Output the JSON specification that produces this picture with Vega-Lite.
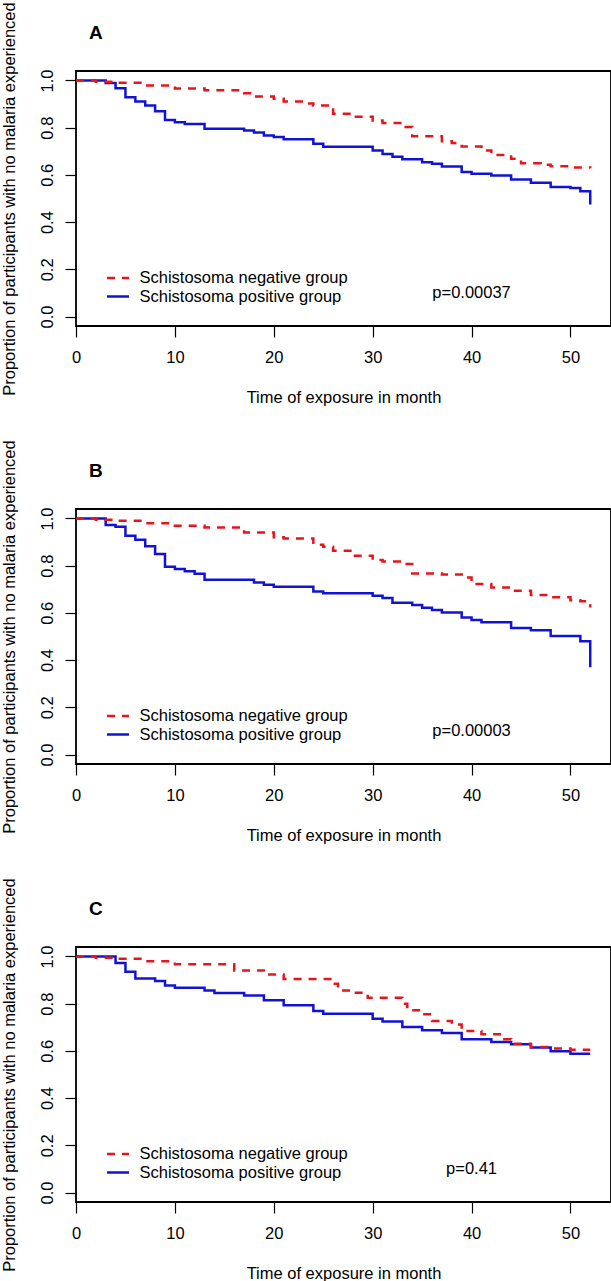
{
  "$schema": "https://vega.github.io/schema/vega-lite/v6.json",
  "background": "white",
  "padding": {"left": 0, "top": 0, "right": 0, "bottom": 0},
  "autosize": {"type": "pad"},
  "config": {
    "font": "Liberation Sans",
    "view": {"stroke": "black", "strokeWidth": 1.8},
    "axis": {"domain": false, "grid": false, "ticks": true, "tickColor": "black", "tickSize": 11, "tickWidth": 1.2,
      "labelColor": "black", "labelFontSize": 16.5, "labelFont": "Liberation Sans", "labelFlush": false, "labelOverlap": false,
      "titleFont": "Liberation Sans", "titleFontSize": 16.5, "titleFontWeight": "normal", "titleColor": "black"},
    "axisX": {"labelPadding": 12, "titlePadding": 24},
    "axisY": {"labelAngle": 270, "labelAlign": "center", "labelBaseline": "bottom", "labelPadding": 10, "titlePadding": 22},
    "title": {"anchor": "start", "fontSize": 19, "fontWeight": "bold", "font": "Liberation Sans", "color": "black", "dx": 13, "offset": -41, "frame": "group"}
  },
  "datasets": {
    "km": [
      {"panel":"A","group":"Schistosoma positive group","t":0,"s":1},
      {"panel":"A","group":"Schistosoma positive group","t":3,"s":0.989},
      {"panel":"A","group":"Schistosoma positive group","t":4,"s":0.967},
      {"panel":"A","group":"Schistosoma positive group","t":5,"s":0.929},
      {"panel":"A","group":"Schistosoma positive group","t":6,"s":0.911},
      {"panel":"A","group":"Schistosoma positive group","t":7,"s":0.894},
      {"panel":"A","group":"Schistosoma positive group","t":8,"s":0.870},
      {"panel":"A","group":"Schistosoma positive group","t":9,"s":0.833},
      {"panel":"A","group":"Schistosoma positive group","t":10,"s":0.823},
      {"panel":"A","group":"Schistosoma positive group","t":11,"s":0.816},
      {"panel":"A","group":"Schistosoma positive group","t":13,"s":0.795},
      {"panel":"A","group":"Schistosoma positive group","t":17,"s":0.788},
      {"panel":"A","group":"Schistosoma positive group","t":18,"s":0.780},
      {"panel":"A","group":"Schistosoma positive group","t":19,"s":0.767},
      {"panel":"A","group":"Schistosoma positive group","t":20,"s":0.760},
      {"panel":"A","group":"Schistosoma positive group","t":21,"s":0.751},
      {"panel":"A","group":"Schistosoma positive group","t":24,"s":0.732},
      {"panel":"A","group":"Schistosoma positive group","t":25,"s":0.719},
      {"panel":"A","group":"Schistosoma positive group","t":30,"s":0.703},
      {"panel":"A","group":"Schistosoma positive group","t":31,"s":0.689},
      {"panel":"A","group":"Schistosoma positive group","t":32,"s":0.677},
      {"panel":"A","group":"Schistosoma positive group","t":33,"s":0.666},
      {"panel":"A","group":"Schistosoma positive group","t":35,"s":0.654},
      {"panel":"A","group":"Schistosoma positive group","t":36,"s":0.647},
      {"panel":"A","group":"Schistosoma positive group","t":37,"s":0.636},
      {"panel":"A","group":"Schistosoma positive group","t":39,"s":0.612},
      {"panel":"A","group":"Schistosoma positive group","t":40,"s":0.605},
      {"panel":"A","group":"Schistosoma positive group","t":42,"s":0.597},
      {"panel":"A","group":"Schistosoma positive group","t":44,"s":0.580},
      {"panel":"A","group":"Schistosoma positive group","t":46,"s":0.567},
      {"panel":"A","group":"Schistosoma positive group","t":48,"s":0.549},
      {"panel":"A","group":"Schistosoma positive group","t":50,"s":0.544},
      {"panel":"A","group":"Schistosoma positive group","t":51,"s":0.531},
      {"panel":"A","group":"Schistosoma positive group","t":52,"s":0.475},
      {"panel":"A","group":"Schistosoma negative group","t":0,"s":1},
      {"panel":"A","group":"Schistosoma negative group","t":2,"s":0.994},
      {"panel":"A","group":"Schistosoma negative group","t":4,"s":0.990},
      {"panel":"A","group":"Schistosoma negative group","t":7,"s":0.979},
      {"panel":"A","group":"Schistosoma negative group","t":10,"s":0.966},
      {"panel":"A","group":"Schistosoma negative group","t":13,"s":0.959},
      {"panel":"A","group":"Schistosoma negative group","t":17,"s":0.946},
      {"panel":"A","group":"Schistosoma negative group","t":18,"s":0.932},
      {"panel":"A","group":"Schistosoma negative group","t":20,"s":0.922},
      {"panel":"A","group":"Schistosoma negative group","t":21,"s":0.911},
      {"panel":"A","group":"Schistosoma negative group","t":23,"s":0.902},
      {"panel":"A","group":"Schistosoma negative group","t":24,"s":0.894},
      {"panel":"A","group":"Schistosoma negative group","t":26,"s":0.859},
      {"panel":"A","group":"Schistosoma negative group","t":28,"s":0.846},
      {"panel":"A","group":"Schistosoma negative group","t":30,"s":0.830},
      {"panel":"A","group":"Schistosoma negative group","t":31,"s":0.820},
      {"panel":"A","group":"Schistosoma negative group","t":33,"s":0.803},
      {"panel":"A","group":"Schistosoma negative group","t":34,"s":0.764},
      {"panel":"A","group":"Schistosoma negative group","t":37,"s":0.743},
      {"panel":"A","group":"Schistosoma negative group","t":38,"s":0.735},
      {"panel":"A","group":"Schistosoma negative group","t":39,"s":0.720},
      {"panel":"A","group":"Schistosoma negative group","t":41,"s":0.703},
      {"panel":"A","group":"Schistosoma negative group","t":42,"s":0.684},
      {"panel":"A","group":"Schistosoma negative group","t":44,"s":0.668},
      {"panel":"A","group":"Schistosoma negative group","t":45,"s":0.649},
      {"panel":"A","group":"Schistosoma negative group","t":47,"s":0.643},
      {"panel":"A","group":"Schistosoma negative group","t":48,"s":0.637},
      {"panel":"A","group":"Schistosoma negative group","t":50,"s":0.631},
      {"panel":"A","group":"Schistosoma negative group","t":52,"s":0.628},
      {"panel":"B","group":"Schistosoma positive group","t":0,"s":1},
      {"panel":"B","group":"Schistosoma positive group","t":3,"s":0.972},
      {"panel":"B","group":"Schistosoma positive group","t":4,"s":0.965},
      {"panel":"B","group":"Schistosoma positive group","t":5,"s":0.927},
      {"panel":"B","group":"Schistosoma positive group","t":6,"s":0.910},
      {"panel":"B","group":"Schistosoma positive group","t":7,"s":0.882},
      {"panel":"B","group":"Schistosoma positive group","t":8,"s":0.849},
      {"panel":"B","group":"Schistosoma positive group","t":9,"s":0.795},
      {"panel":"B","group":"Schistosoma positive group","t":10,"s":0.786},
      {"panel":"B","group":"Schistosoma positive group","t":11,"s":0.776},
      {"panel":"B","group":"Schistosoma positive group","t":12,"s":0.766},
      {"panel":"B","group":"Schistosoma positive group","t":13,"s":0.740},
      {"panel":"B","group":"Schistosoma positive group","t":18,"s":0.729},
      {"panel":"B","group":"Schistosoma positive group","t":19,"s":0.719},
      {"panel":"B","group":"Schistosoma positive group","t":20,"s":0.711},
      {"panel":"B","group":"Schistosoma positive group","t":24,"s":0.691},
      {"panel":"B","group":"Schistosoma positive group","t":25,"s":0.683},
      {"panel":"B","group":"Schistosoma positive group","t":30,"s":0.673},
      {"panel":"B","group":"Schistosoma positive group","t":31,"s":0.663},
      {"panel":"B","group":"Schistosoma positive group","t":32,"s":0.643},
      {"panel":"B","group":"Schistosoma positive group","t":34,"s":0.633},
      {"panel":"B","group":"Schistosoma positive group","t":35,"s":0.622},
      {"panel":"B","group":"Schistosoma positive group","t":36,"s":0.612},
      {"panel":"B","group":"Schistosoma positive group","t":37,"s":0.602},
      {"panel":"B","group":"Schistosoma positive group","t":39,"s":0.581},
      {"panel":"B","group":"Schistosoma positive group","t":40,"s":0.570},
      {"panel":"B","group":"Schistosoma positive group","t":41,"s":0.560},
      {"panel":"B","group":"Schistosoma positive group","t":44,"s":0.536},
      {"panel":"B","group":"Schistosoma positive group","t":46,"s":0.526},
      {"panel":"B","group":"Schistosoma positive group","t":48,"s":0.502},
      {"panel":"B","group":"Schistosoma positive group","t":51,"s":0.480},
      {"panel":"B","group":"Schistosoma positive group","t":52,"s":0.370},
      {"panel":"B","group":"Schistosoma negative group","t":0,"s":1},
      {"panel":"B","group":"Schistosoma negative group","t":2,"s":0.994},
      {"panel":"B","group":"Schistosoma negative group","t":4,"s":0.990},
      {"panel":"B","group":"Schistosoma negative group","t":7,"s":0.980},
      {"panel":"B","group":"Schistosoma negative group","t":10,"s":0.969},
      {"panel":"B","group":"Schistosoma negative group","t":13,"s":0.962},
      {"panel":"B","group":"Schistosoma negative group","t":17,"s":0.941},
      {"panel":"B","group":"Schistosoma negative group","t":20,"s":0.920},
      {"panel":"B","group":"Schistosoma negative group","t":21,"s":0.915},
      {"panel":"B","group":"Schistosoma negative group","t":24,"s":0.889},
      {"panel":"B","group":"Schistosoma negative group","t":25,"s":0.880},
      {"panel":"B","group":"Schistosoma negative group","t":26,"s":0.863},
      {"panel":"B","group":"Schistosoma negative group","t":28,"s":0.842},
      {"panel":"B","group":"Schistosoma negative group","t":30,"s":0.824},
      {"panel":"B","group":"Schistosoma negative group","t":31,"s":0.818},
      {"panel":"B","group":"Schistosoma negative group","t":33,"s":0.807},
      {"panel":"B","group":"Schistosoma negative group","t":34,"s":0.767},
      {"panel":"B","group":"Schistosoma negative group","t":37,"s":0.763},
      {"panel":"B","group":"Schistosoma negative group","t":39,"s":0.750},
      {"panel":"B","group":"Schistosoma negative group","t":40,"s":0.722},
      {"panel":"B","group":"Schistosoma negative group","t":42,"s":0.708},
      {"panel":"B","group":"Schistosoma negative group","t":44,"s":0.694},
      {"panel":"B","group":"Schistosoma negative group","t":46,"s":0.676},
      {"panel":"B","group":"Schistosoma negative group","t":48,"s":0.666},
      {"panel":"B","group":"Schistosoma negative group","t":50,"s":0.654},
      {"panel":"B","group":"Schistosoma negative group","t":51,"s":0.649},
      {"panel":"B","group":"Schistosoma negative group","t":52,"s":0.623},
      {"panel":"C","group":"Schistosoma positive group","t":0,"s":1},
      {"panel":"C","group":"Schistosoma positive group","t":4,"s":0.972},
      {"panel":"C","group":"Schistosoma positive group","t":5,"s":0.935},
      {"panel":"C","group":"Schistosoma positive group","t":6,"s":0.907},
      {"panel":"C","group":"Schistosoma positive group","t":8,"s":0.896},
      {"panel":"C","group":"Schistosoma positive group","t":9,"s":0.877},
      {"panel":"C","group":"Schistosoma positive group","t":10,"s":0.867},
      {"panel":"C","group":"Schistosoma positive group","t":13,"s":0.856},
      {"panel":"C","group":"Schistosoma positive group","t":14,"s":0.845},
      {"panel":"C","group":"Schistosoma positive group","t":17,"s":0.835},
      {"panel":"C","group":"Schistosoma positive group","t":19,"s":0.814},
      {"panel":"C","group":"Schistosoma positive group","t":21,"s":0.793},
      {"panel":"C","group":"Schistosoma positive group","t":24,"s":0.769},
      {"panel":"C","group":"Schistosoma positive group","t":25,"s":0.757},
      {"panel":"C","group":"Schistosoma positive group","t":30,"s":0.736},
      {"panel":"C","group":"Schistosoma positive group","t":31,"s":0.724},
      {"panel":"C","group":"Schistosoma positive group","t":33,"s":0.701},
      {"panel":"C","group":"Schistosoma positive group","t":35,"s":0.687},
      {"panel":"C","group":"Schistosoma positive group","t":37,"s":0.676},
      {"panel":"C","group":"Schistosoma positive group","t":39,"s":0.649},
      {"panel":"C","group":"Schistosoma positive group","t":42,"s":0.638},
      {"panel":"C","group":"Schistosoma positive group","t":44,"s":0.628},
      {"panel":"C","group":"Schistosoma positive group","t":46,"s":0.614},
      {"panel":"C","group":"Schistosoma positive group","t":48,"s":0.599},
      {"panel":"C","group":"Schistosoma positive group","t":50,"s":0.588},
      {"panel":"C","group":"Schistosoma positive group","t":52,"s":0.588},
      {"panel":"C","group":"Schistosoma negative group","t":0,"s":1},
      {"panel":"C","group":"Schistosoma negative group","t":2,"s":0.994},
      {"panel":"C","group":"Schistosoma negative group","t":4,"s":0.990},
      {"panel":"C","group":"Schistosoma negative group","t":7,"s":0.980},
      {"panel":"C","group":"Schistosoma negative group","t":10,"s":0.967},
      {"panel":"C","group":"Schistosoma negative group","t":16,"s":0.941},
      {"panel":"C","group":"Schistosoma negative group","t":19,"s":0.924},
      {"panel":"C","group":"Schistosoma negative group","t":21,"s":0.905},
      {"panel":"C","group":"Schistosoma negative group","t":26,"s":0.884},
      {"panel":"C","group":"Schistosoma negative group","t":26.5,"s":0.856},
      {"panel":"C","group":"Schistosoma negative group","t":28,"s":0.846},
      {"panel":"C","group":"Schistosoma negative group","t":29.5,"s":0.825},
      {"panel":"C","group":"Schistosoma negative group","t":33,"s":0.800},
      {"panel":"C","group":"Schistosoma negative group","t":33.5,"s":0.772},
      {"panel":"C","group":"Schistosoma negative group","t":35,"s":0.755},
      {"panel":"C","group":"Schistosoma negative group","t":36,"s":0.727},
      {"panel":"C","group":"Schistosoma negative group","t":38,"s":0.712},
      {"panel":"C","group":"Schistosoma negative group","t":39,"s":0.684},
      {"panel":"C","group":"Schistosoma negative group","t":41,"s":0.670},
      {"panel":"C","group":"Schistosoma negative group","t":43,"s":0.649},
      {"panel":"C","group":"Schistosoma negative group","t":44,"s":0.630},
      {"panel":"C","group":"Schistosoma negative group","t":46,"s":0.616},
      {"panel":"C","group":"Schistosoma negative group","t":48,"s":0.610},
      {"panel":"C","group":"Schistosoma negative group","t":50,"s":0.605},
      {"panel":"C","group":"Schistosoma negative group","t":52,"s":0.605}
    ],
    "pv": [
      {"panel":"A","t":40,"s":0.1,"label":"p=0.00037"},
      {"panel":"B","t":40,"s":0.1,"label":"p=0.00003"},
      {"panel":"C","t":40,"s":0.1,"label":"p=0.41"}
    ]
  },
  "bounds": "flush",
  "spacing": 183,
  "resolve": {"scale": {"color": "independent", "strokeDash": "independent"}, "legend": {"color": "independent", "strokeDash": "independent"}},
  "vconcat": [
    {
      "title": {"text": "A"},
      "width": 535, "height": 255,
      "layer": [
        {
          "data": {"name": "km"},
          "transform": [{"filter": "datum.panel === 'A'"}],
          "mark": {"type": "line", "interpolate": "step-after", "strokeWidth": 2.5},
          "encoding": {
            "x": {"field": "t", "type": "quantitative", "scale": {"domain": [0, 54.1], "nice": false, "zero": false}, "axis": {"values": [0,10,20,30,40,50], "title": "Time of exposure in month"}},
            "y": {"field": "s", "type": "quantitative", "scale": {"domain": [-0.04, 1.04], "nice": false, "zero": false}, "axis": {"values": [0,0.2,0.4,0.6,0.8,1.0], "format": ".1f", "title": "Proportion of participants with no malaria experienced"}},
            "color": {"field": "group", "type": "nominal", "scale": {"domain": ["Schistosoma negative group", "Schistosoma positive group"], "range": ["#e8141c", "#1212d6"]},
              "legend": {"title": null, "orient": "none", "legendX": 33.5, "legendY": 198.5, "symbolType": "M-1.57,0H1.57", "symbolSize": 196, "symbolStrokeWidth": 2.5, "labelFontSize": 16.5, "labelColor": "black", "labelFont": "Liberation Sans", "labelOffset": 13, "rowPadding": 1.5, "padding": 0, "labelLimit": 400}},
            "strokeDash": {"field": "group", "type": "nominal", "scale": {"domain": ["Schistosoma negative group", "Schistosoma positive group"], "range": [[8, 7], [1, 0]]},
              "legend": {"title": null, "orient": "none", "legendX": 33.5, "legendY": 198.5, "symbolType": "M-1.57,0H1.57", "symbolSize": 196, "symbolStrokeWidth": 2.5, "labelFontSize": 16.5, "labelColor": "black", "labelFont": "Liberation Sans", "labelOffset": 13, "rowPadding": 1.5, "padding": 0, "labelLimit": 400}}
          }
        },
        {
          "data": {"name": "pv"},
          "transform": [{"filter": "datum.panel === 'A'"}],
          "mark": {"type": "text", "fontSize": 16.5, "font": "Liberation Sans", "color": "black", "align": "center", "baseline": "middle"},
          "encoding": {
            "x": {"field": "t", "type": "quantitative"},
            "y": {"field": "s", "type": "quantitative"},
            "text": {"field": "label"}
          }
        }
      ]
    },
    {
      "title": {"text": "B"},
      "width": 535, "height": 255,
      "layer": [
        {
          "data": {"name": "km"},
          "transform": [{"filter": "datum.panel === 'B'"}],
          "mark": {"type": "line", "interpolate": "step-after", "strokeWidth": 2.5},
          "encoding": {
            "x": {"field": "t", "type": "quantitative", "scale": {"domain": [0, 54.1], "nice": false, "zero": false}, "axis": {"values": [0,10,20,30,40,50], "title": "Time of exposure in month"}},
            "y": {"field": "s", "type": "quantitative", "scale": {"domain": [-0.04, 1.04], "nice": false, "zero": false}, "axis": {"values": [0,0.2,0.4,0.6,0.8,1.0], "format": ".1f", "title": "Proportion of participants with no malaria experienced"}},
            "color": {"field": "group", "type": "nominal", "scale": {"domain": ["Schistosoma negative group", "Schistosoma positive group"], "range": ["#e8141c", "#1212d6"]},
              "legend": {"title": null, "orient": "none", "legendX": 33.5, "legendY": 198.5, "symbolType": "M-1.57,0H1.57", "symbolSize": 196, "symbolStrokeWidth": 2.5, "labelFontSize": 16.5, "labelColor": "black", "labelFont": "Liberation Sans", "labelOffset": 13, "rowPadding": 1.5, "padding": 0, "labelLimit": 400}},
            "strokeDash": {"field": "group", "type": "nominal", "scale": {"domain": ["Schistosoma negative group", "Schistosoma positive group"], "range": [[8, 7], [1, 0]]},
              "legend": {"title": null, "orient": "none", "legendX": 33.5, "legendY": 198.5, "symbolType": "M-1.57,0H1.57", "symbolSize": 196, "symbolStrokeWidth": 2.5, "labelFontSize": 16.5, "labelColor": "black", "labelFont": "Liberation Sans", "labelOffset": 13, "rowPadding": 1.5, "padding": 0, "labelLimit": 400}}
          }
        },
        {
          "data": {"name": "pv"},
          "transform": [{"filter": "datum.panel === 'B'"}],
          "mark": {"type": "text", "fontSize": 16.5, "font": "Liberation Sans", "color": "black", "align": "center", "baseline": "middle"},
          "encoding": {
            "x": {"field": "t", "type": "quantitative"},
            "y": {"field": "s", "type": "quantitative"},
            "text": {"field": "label"}
          }
        }
      ]
    },
    {
      "title": {"text": "C"},
      "width": 535, "height": 255,
      "layer": [
        {
          "data": {"name": "km"},
          "transform": [{"filter": "datum.panel === 'C'"}],
          "mark": {"type": "line", "interpolate": "step-after", "strokeWidth": 2.5},
          "encoding": {
            "x": {"field": "t", "type": "quantitative", "scale": {"domain": [0, 54.1], "nice": false, "zero": false}, "axis": {"values": [0,10,20,30,40,50], "title": "Time of exposure in month"}},
            "y": {"field": "s", "type": "quantitative", "scale": {"domain": [-0.04, 1.04], "nice": false, "zero": false}, "axis": {"values": [0,0.2,0.4,0.6,0.8,1.0], "format": ".1f", "title": "Proportion of participants with no malaria experienced"}},
            "color": {"field": "group", "type": "nominal", "scale": {"domain": ["Schistosoma negative group", "Schistosoma positive group"], "range": ["#e8141c", "#1212d6"]},
              "legend": {"title": null, "orient": "none", "legendX": 33.5, "legendY": 198.5, "symbolType": "M-1.57,0H1.57", "symbolSize": 196, "symbolStrokeWidth": 2.5, "labelFontSize": 16.5, "labelColor": "black", "labelFont": "Liberation Sans", "labelOffset": 13, "rowPadding": 1.5, "padding": 0, "labelLimit": 400}},
            "strokeDash": {"field": "group", "type": "nominal", "scale": {"domain": ["Schistosoma negative group", "Schistosoma positive group"], "range": [[8, 7], [1, 0]]},
              "legend": {"title": null, "orient": "none", "legendX": 33.5, "legendY": 198.5, "symbolType": "M-1.57,0H1.57", "symbolSize": 196, "symbolStrokeWidth": 2.5, "labelFontSize": 16.5, "labelColor": "black", "labelFont": "Liberation Sans", "labelOffset": 13, "rowPadding": 1.5, "padding": 0, "labelLimit": 400}}
          }
        },
        {
          "data": {"name": "pv"},
          "transform": [{"filter": "datum.panel === 'C'"}],
          "mark": {"type": "text", "fontSize": 16.5, "font": "Liberation Sans", "color": "black", "align": "center", "baseline": "middle"},
          "encoding": {
            "x": {"field": "t", "type": "quantitative"},
            "y": {"field": "s", "type": "quantitative"},
            "text": {"field": "label"}
          }
        }
      ]
    }
  ]
}
